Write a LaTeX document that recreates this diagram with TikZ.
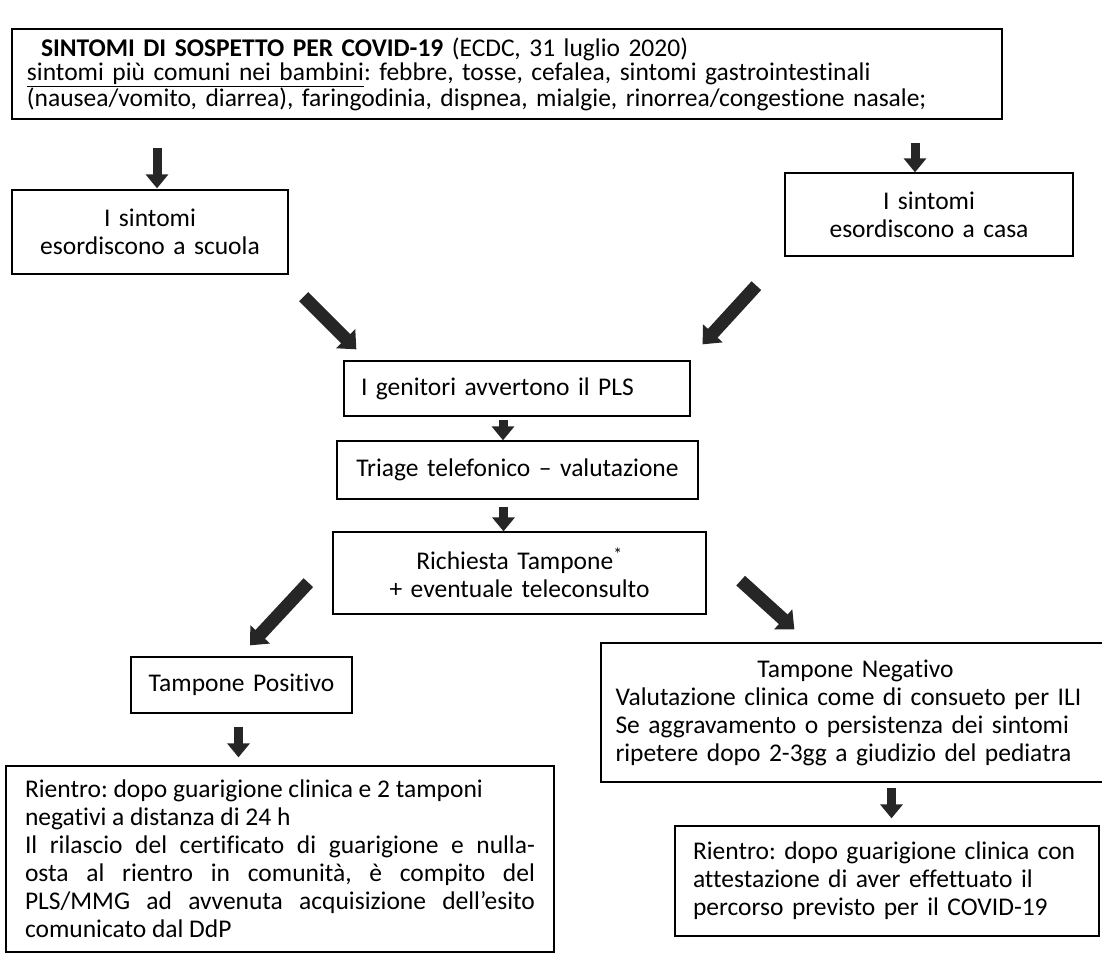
\documentclass[tikz,border=0pt]{standalone}
\usepackage{fontspec}
\setmainfont{Carlito}[Ligatures={TeX,NoCommon}]
\usetikzlibrary{arrows.meta}
\frenchspacing

\tikzset{
  box/.style={draw, line width=1.3pt, inner sep=0pt, font=\fontsize{25.5}{28}\selectfont},
  fat/.style={line width=9pt, black!85, -{Triangle[width=22pt,length=14pt]}},
  fatdiag/.style={line width=13pt, black!85, -{Triangle[width=26pt,length=15pt]}},
}

\begin{document}
\begin{tikzpicture}[x=1pt, y=-1pt]
        \useasboundingbox (0,0) rectangle (1102,957);

        % boxes
        \node[box, minimum width=990pt, minimum height=90pt, text width=960pt, align=left,
              font=\fontsize{25.5}{24.5}\selectfont] at (507,74) (sympt)
          {\hspace*{14pt}\textbf{SINTOMI DI SOSPETTO PER COVID-19} (ECDC, 31 luglio 2020)\\
           \underline{sintomi più comuni nei bambini}: febbre, tosse, cefalea, sintomi gastrointestinali\\
           (nausea/vomito, diarrea), faringodinia, dispnea, mialgie, rinorrea/congestione nasale;};
        \node[box, minimum width=276pt, minimum height=84pt, text width=250pt, align=center] at (150,232) (school)
          {I sintomi\\esordiscono a scuola};
        \node[box, minimum width=288pt, minimum height=83pt, text width=260pt, align=center] at (929,214.5) (home)
          {I sintomi\\esordiscono a casa};
        \node[box, minimum width=346pt, minimum height=55pt, text width=312pt, align=left] at (517,388.5) (parents)
          {I genitori avvertono il PLS};
        \node[box, minimum width=361pt, minimum height=58pt, text width=330pt, align=center] at (517.5,470) (triage)
          {Triage telefonico -- valutazione};
        \node[box, minimum width=373pt, minimum height=82pt, text width=340pt, align=center] at (519.5,573) (request)
          {Richiesta Tampone\textsuperscript{*}\\+ eventuale teleconsulto};
        \node[box, minimum width=221pt, minimum height=56pt, text width=200pt, align=center] at (241.5,685) (positive)
          {Tampone Positivo};
        \node[box, minimum width=548pt, minimum height=186pt, text width=510pt, align=justify] at (280,859) (backpos)
          {Rientro: dopo guarigione clinica e 2 tamponi\\
           negativi a distanza di 24 h\\
           Il rilascio del certificato di guarigione e nulla-\linebreak
           osta al rientro in comunità, è compito del\linebreak
           PLS/MMG ad avvenuta acquisizione dell’esito\linebreak
           comunicato dal DdP};
        \node[box, minimum width=509pt, minimum height=139pt, text width=480pt, align=left] at (855.5,712.5) (negative)
          {\centering Tampone Negativo\par
           \raggedright Valutazione clinica come di consueto per ILI\\
           Se aggravamento o persistenza dei sintomi\\
           ripetere dopo 2-3gg a giudizio del pediatra};
        \node[box, minimum width=424pt, minimum height=110pt, text width=388pt, align=left] at (887,881) (backneg)
          {Rientro: dopo guarigione clinica con\\
           attestazione di aver effettuato il\\
           percorso previsto per il COVID-19};

        % arrows
        \draw[fat, shorten <=28pt, shorten >=1pt] ([xshift=7pt]school.north |- sympt.south) -- ([xshift=7pt]school.north);
        \draw[fat, shorten <=23pt] ([xshift=-14pt]home.north |- sympt.south) -- ([xshift=-14pt]home.north);
        \draw[fatdiag] ([shift={(15,22)}]school.south east) -- ([shift={(13,-11)}]parents.north west);
        \draw[fatdiag] ([shift={(-28,29)}]home.south west) -- ([shift={(12,-16)}]parents.north east);
        \draw[fat, shorten <=3pt] ([xshift=-14pt]parents.south) -- ([xshift=-14pt]parents.south |- triage.north);
        \draw[fat, shorten <=7pt] ([xshift=-14pt]triage.south) -- ([xshift=-14pt]triage.south |- request.north);
        \draw[fatdiag] ([shift={(-24,-32)}]request.south west) -- ([shift={(8.5,-11)}]positive.north);
        \draw[fatdiag] ([shift={(34,-34)}]request.south east) -- ([shift={(194,-13)}]negative.north west);
        \draw[fat, shorten <=13pt, shorten >=8pt] ([xshift=-3pt]positive.south) -- ([xshift=-3pt]positive.south |- backpos.north);
        \draw[fat, shorten <=5pt, shorten >=7pt] ([xshift=36pt]negative.south) -- ([xshift=36pt]negative.south |- backneg.north);
\end{tikzpicture}
\end{document}
